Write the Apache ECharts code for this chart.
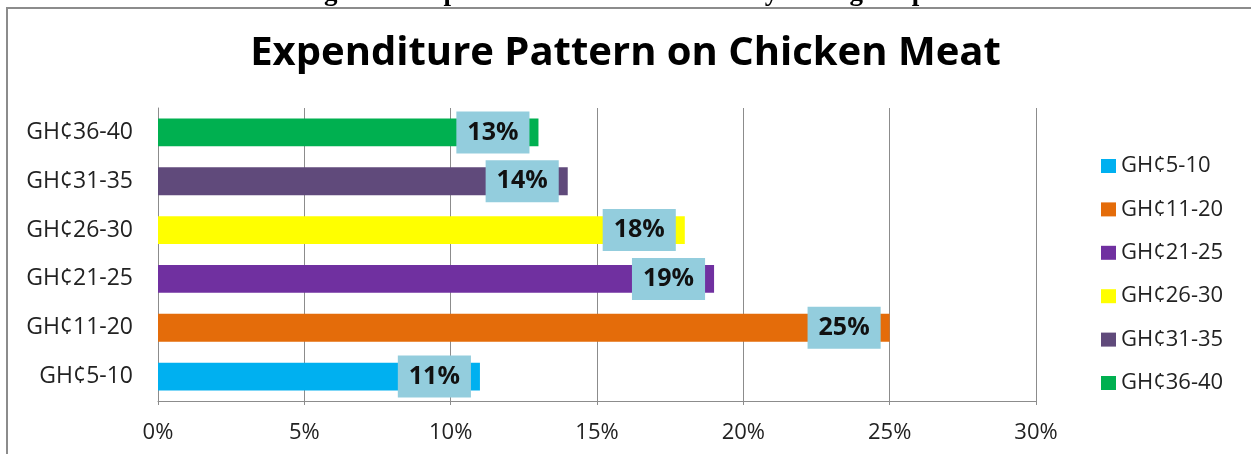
<!DOCTYPE html>
<html>
<head>
<meta charset="utf-8">
<script src="https://cdn.jsdelivr.net/npm/echarts@6/dist/echarts.min.js"></script>
<style>
  html, body { margin: 0; padding: 0; background: #fff; }
  #chart { width: 1251px; height: 454px; }
</style>
</head>
<body>
<div id="chart"></div>
<script>
// Expenditure brackets (bottom to top) and share of respondents (%)
const categories = ['GH¢5-10', 'GH¢11-20', 'GH¢21-25', 'GH¢26-30', 'GH¢31-35', 'GH¢36-40'];
const shares = [11, 25, 19, 18, 14, 13];
const colors = ['#00B0F0', '#E46C0A', '#7030A0', '#FFFF00', '#604A7B', '#00B050'];
const xTicks = [0, 5, 10, 15, 20, 25, 30];

const FONT = '"Open Sans", sans-serif';

// One series per bracket so the legend lists every bracket; stacking keeps bars centred
const series = categories.map((name, i) => ({
  name: name,
  type: 'bar',
  stack: 'all',
  barCategoryGap: '43%',
  itemStyle: { color: colors[i] },
  data: categories.map((_, j) => (j === i ? shares[i] : null)),
  label: {
    show: true,
    position: 'insideRight',
    distance: 9,
    formatter: p => p.value + '%',
    backgroundColor: '#93CDDD',
    padding: [8, 11, 8, 11],
    fontFamily: FONT,
    fontWeight: 'bold',
    fontSize: 25,
    lineHeight: 26,
    color: '#111'
  }
}));

const chart = echarts.init(document.getElementById('chart'), null, { renderer: 'canvas' });
chart.setOption({
  animation: false,
  backgroundColor: '#fff',
  graphic: [
    {
      type: 'text',
      left: 300,
      top: -20,
      style: {
        text: 'Figure 3: Expenditure Pattern on Poultry among Respondents',
        font: 'bold 27px "Liberation Serif", serif',
        fill: '#000'
      }
    },
    {
      type: 'rect',
      shape: { x: 7, y: 8, width: 1300, height: 500 },
      style: { fill: 'none', stroke: '#8c8c8c', lineWidth: 2 },
      z: -1
    }
  ],
  title: {
    text: 'Expenditure Pattern on Chicken Meat',
    left: 'center',
    top: 29,
    padding: [5, 0, 5, 12],
    textStyle: { fontFamily: FONT, fontWeight: 'bold', fontSize: 40, color: '#000' }
  },
  legend: {
    orient: 'vertical',
    left: 1096,
    top: 150,
    itemGap: 21.4,
    itemWidth: 15,
    itemHeight: 14,
    icon: 'rect',
    textStyle: { fontFamily: FONT, fontSize: 22, color: '#222' }
  },
  grid: { left: 158, right: 215, top: 108, bottom: 53, containLabel: false },
  xAxis: {
    type: 'value',
    min: 0,
    max: 30,
    interval: 5,
    axisLine: { show: true, lineStyle: { color: '#8c8c8c', width: 1 } },
    axisTick: { show: true, length: 4, lineStyle: { color: '#8c8c8c' } },
    splitLine: { show: true, lineStyle: { color: '#8c8c8c', width: 1 } },
    axisLabel: {
      margin: 21,
      formatter: v => (xTicks.includes(v) ? v + '%' : ''),
      fontFamily: FONT,
      fontSize: 22,
      color: '#222'
    }
  },
  yAxis: {
    type: 'category',
    data: categories,
    axisLine: { show: true, lineStyle: { color: '#8c8c8c', width: 1 } },
    axisTick: { show: false },
    axisLabel: { margin: 25, fontFamily: FONT, fontSize: 23, color: '#222' }
  },
  series: series
});
</script>
</body>
</html>
